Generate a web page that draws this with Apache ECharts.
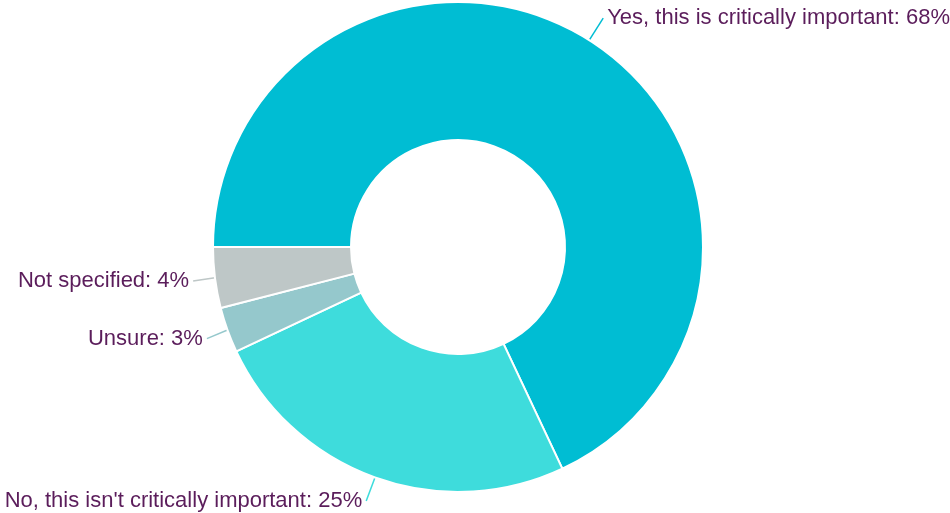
<!DOCTYPE html>
<html>
<head>
<meta charset="utf-8">
<script src="https://cdn.jsdelivr.net/npm/echarts@6/dist/echarts.min.js"></script>
<style>
  html, body { margin: 0; padding: 0; background: #ffffff; }
  #chart { width: 950px; height: 513px; }
</style>
</head>
<body>
<div id="chart"></div>
<script>
// Survey answers, in clockwise order starting at nine o'clock
const categories = [
  "Yes, this is critically important",
  "No, this isn't critically important",
  "Unsure",
  "Not specified"
];
const values = [68, 25, 3, 4];
const sliceColors = ["#00bdd3", "#3edcdc", "#95c8cc", "#bec7c7"];

const chart = echarts.init(document.getElementById("chart"), null, { renderer: "canvas" });

chart.setOption({
  animation: false,
  backgroundColor: "#ffffff",
  series: [{
    type: "pie",
    center: [458, 247],
    radius: [107, 245],
    startAngle: 180,
    clockwise: true,
    avoidLabelOverlap: true,
    itemStyle: { borderColor: "#ffffff", borderWidth: 2 },
    label: {
      show: true,
      formatter: "{b}: {c}%",
      color: "#5b1d5b",
      fontFamily: "Liberation Sans, Arial, sans-serif",
      fontSize: 22,
      overflow: "none",
      edgeDistance: 0,
      distanceToLabelLine: 4
    },
    labelLine: {
      show: true,
      length: 26,
      length2: 0,
      lineStyle: { width: 1.5 }
    },
    data: categories.map((name, i) => ({
      name: name,
      value: values[i],
      itemStyle: { color: sliceColors[i] }
    }))
  }]
});
</script>
</body>
</html>
